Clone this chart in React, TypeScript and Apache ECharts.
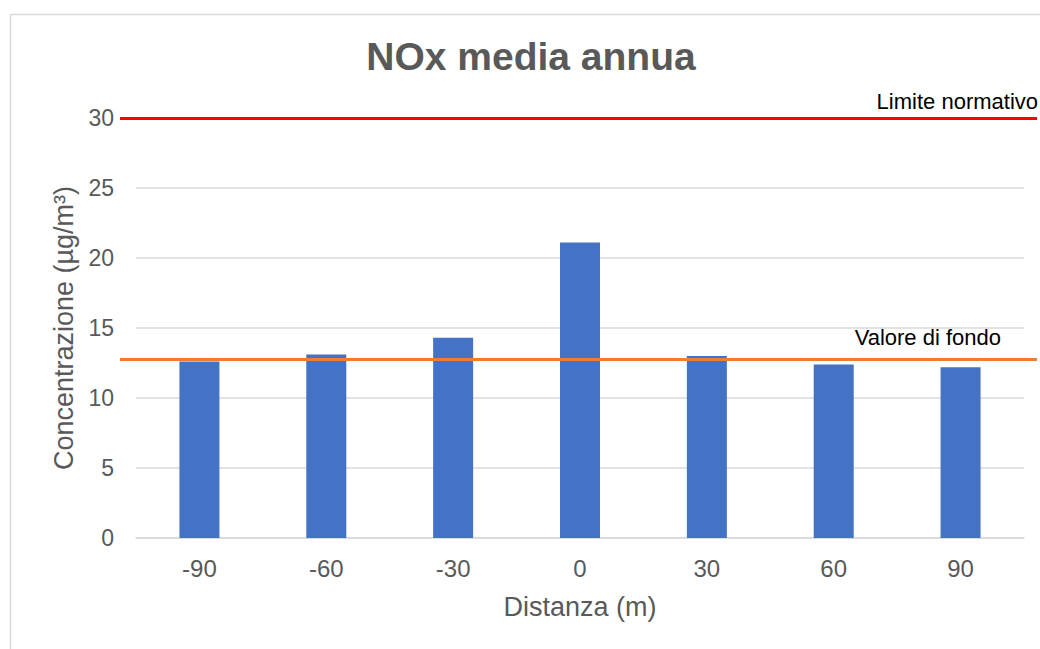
import React, { useEffect, useRef } from "react";
import * as echarts from "echarts";

const categories = ["-90", "-60", "-30", "0", "30", "60", "90"];
const concentrations = [12.6, 13.1, 14.3, 21.1, 13.0, 12.4, 12.2];
const limitValue = 30;
const backgroundValue = 12.8;
const yTicks = { min: 0, max: 30, interval: 5 };

const FONT = "'Liberation Sans', Arial, sans-serif";
const GRAY = "#595959";

export default function App() {
  const ref = useRef<HTMLDivElement>(null);
  useEffect(() => {
    if (!ref.current) return;
    const chart = echarts.init(ref.current, undefined, { renderer: "svg" });
    const top = 118;
    const bottom = 111;
    chart.setOption({
      animation: false,
      backgroundColor: "#ffffff",
      textStyle: { fontFamily: FONT },
      title: {
        text: "NOx media annua",
        left: 531,
        textAlign: "center",
        top: 37,
        padding: 0,
        textStyle: { fontFamily: FONT, fontSize: 39, fontWeight: "bold", color: GRAY },
      },
      graphic: [
        {
          type: "rect",
          shape: { x: 10.5, y: 14.5, width: 1100, height: 700 },
          style: { fill: "none", stroke: "#D9D9D9", lineWidth: 1.5 },
          silent: true,
          z: -1,
        },
      ],
      grid: [
        { left: 136, right: 16, top, bottom },
        { left: 120, right: 3, top, bottom },
      ],
      xAxis: [
        {
          type: "category",
          gridIndex: 0,
          data: categories,
          axisLine: { lineStyle: { color: "#D9D9D9", width: 1.5 } },
          axisTick: { show: false },
          axisLabel: { fontSize: 24, color: GRAY, margin: 18, fontFamily: FONT },
          name: "Distanza (m)",
          nameLocation: "middle",
          nameGap: 55,
          nameTextStyle: { fontSize: 27, color: GRAY, fontFamily: FONT },
        },
        { type: "value", gridIndex: 1, min: 0, max: 1, show: false },
      ],
      yAxis: [
        {
          type: "value",
          gridIndex: 0,
          min: yTicks.min,
          max: yTicks.max,
          interval: yTicks.interval,
          axisLine: { show: false },
          axisTick: { show: false },
          splitLine: { lineStyle: { color: "#D9D9D9", width: 1.5 } },
          axisLabel: { fontSize: 23, color: GRAY, margin: 22, fontFamily: FONT },
          name: "Concentrazione (µg/m³)",
          nameLocation: "middle",
          nameGap: 58,
          nameTextStyle: { fontSize: 27, color: GRAY, fontFamily: FONT },
        },
        { type: "value", gridIndex: 1, min: yTicks.min, max: yTicks.max, show: false },
      ],
      series: [
        {
          type: "bar",
          xAxisIndex: 0,
          yAxisIndex: 0,
          data: concentrations,
          barWidth: 40,
          itemStyle: { color: "#4472C4" },
          z: 2,
        },
        {
          type: "line",
          xAxisIndex: 1,
          yAxisIndex: 1,
          data: [],
          z: 5,
          markLine: {
            silent: true,
            symbol: "none",
            z: 5,
            data: [
              {
                yAxis: limitValue,
                lineStyle: { color: "#FF0000", width: 3, type: "solid" },
                label: {
                  show: true,
                  formatter: "Limite normativo",
                  position: "insideEndTop",
                  distance: [-1, 6],
                  fontSize: 22,
                  color: "#000000",
                  fontFamily: FONT,
                },
              },
              {
                yAxis: backgroundValue,
                lineStyle: { color: "#ED7D31", width: 3, type: "solid" },
                label: {
                  show: true,
                  formatter: "Valore di fondo",
                  position: "insideEndTop",
                  distance: [0, 10],
                  padding: [0, 36, 0, 0],
                  fontSize: 22,
                  color: "#000000",
                  fontFamily: FONT,
                },
              },
            ],
          },
        },
      ],
    });
    return () => chart.dispose();
  }, []);
  return (
    <div
      ref={ref}
      style={{ position: "absolute", left: 0, top: 0, width: 1040, height: 649 }}
    />
  );
}
